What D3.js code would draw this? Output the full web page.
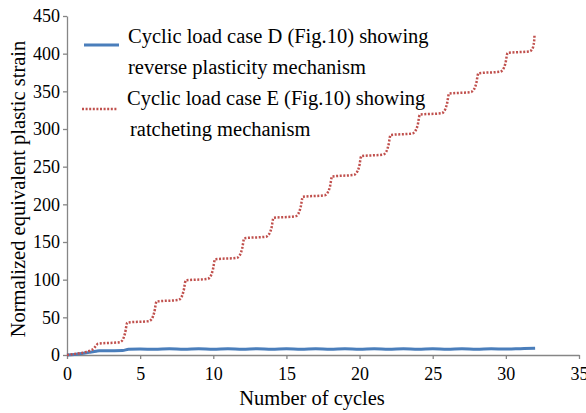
<!DOCTYPE html>
<html>
<head>
<meta charset="utf-8">
<script src="https://cdn.jsdelivr.net/npm/d3@7"></script>
<style>
  html, body { margin: 0; padding: 0; background: #fff; }
  svg { display: block; }
  svg text { font-family: "Liberation Serif", "Times New Roman", Times, serif; }
</style>
</head>
<body>
<svg id="chart" width="586" height="413"></svg>
<script>
// ---- data ----
const xTicks = [0, 5, 10, 15, 20, 25, 30, 35];
const yTicks = [0, 50, 100, 150, 200, 250, 300, 350, 400, 450];

const seriesNames = [
  ["Cyclic load case D (Fig.10) showing", "reverse plasticity mechanism"],
  ["Cyclic load case E (Fig.10) showing", "ratcheting mechanism"]
];

// Case D: reverse plasticity (blue)
const cyclesD = [0, 0.5, 1, 1.5, 2, 2.2, 3.8, 4.2, 5, 6, 7, 8, 9, 10, 11, 12, 13, 14, 15, 16, 17, 18, 19, 20, 21, 22, 23, 24, 25, 26, 27, 28, 29, 30, 31, 32];
const strainD = [0, 0.8, 2, 3.5, 5, 5.5, 6, 7.5, 8, 7.5, 8.2, 7.6, 8.3, 7.6, 8.3, 7.6, 8.3, 7.6, 8.3, 7.6, 8.3, 7.6, 8.3, 7.6, 8.3, 7.6, 8.3, 7.6, 8.3, 7.6, 8.3, 7.6, 8.3, 7.8, 8.4, 9];

// Case E: ratcheting (red dotted)
const cyclesE = [0, 0.6, 1.2, 1.6, 1.85, 1.97, 2.12,
  3.6, 3.8, 3.97, 4.12,
  5.6, 5.8, 5.97, 6.12,
  7.6, 7.8, 7.97, 8.12,
  9.6, 9.8, 9.97, 10.12,
  11.6, 11.8, 11.97, 12.12,
  13.6, 13.8, 13.97, 14.12,
  15.6, 15.8, 15.97, 16.12,
  17.6, 17.8, 17.97, 18.12,
  19.6, 19.8, 19.97, 20.12,
  21.6, 21.8, 21.97, 22.12,
  23.6, 23.8, 23.97, 24.12,
  25.6, 25.8, 25.97, 26.12,
  27.6, 27.8, 27.97, 28.12,
  29.6, 29.8, 29.97, 30.12,
  31.6, 31.8, 31.93, 31.96];
const strainE = [0, 1.5, 3.5, 6, 9, 12, 15,
  17, 20, 29, 43,
  45, 48, 57, 71,
  73, 76, 85, 99,
  101, 104, 113, 127,
  129, 132, 141, 155,
  157, 160, 168, 182,
  184, 187, 196, 210,
  212, 215, 223, 237,
  239, 242, 250, 264,
  266, 269, 278, 292,
  294, 297, 305, 319,
  321, 324, 333, 347,
  349, 352, 360, 374,
  376, 379, 387, 401,
  403, 406, 416, 425];

const colors = ["#4a7ebb", "#c0504d"];

// ---- chart ----
const svg = d3.select("#chart");
const serif = '"Liberation Serif", "Times New Roman", Times, serif';

const x = d3.scaleLinear().domain([0, 35]).range([67, 579]);
const y = d3.scaleLinear().domain([0, 450]).range([355, 16]);

const axisColor = "#868686";

const gx = svg.append("g")
  .attr("transform", `translate(0,${y(0)})`)
  .call(d3.axisBottom(x).tickValues(xTicks).tickSize(4).tickSizeOuter(0).tickPadding(8));
const gy = svg.append("g")
  .attr("transform", `translate(${x(0)},0)`)
  .call(d3.axisLeft(y).tickValues(yTicks).tickSize(4).tickSizeOuter(0).tickPadding(3));

[gx, gy].forEach(g => {
  g.attr("font-family", serif).attr("font-size", 18);
  g.selectAll("path.domain").attr("stroke", axisColor).attr("stroke-width", 1.3);
  g.selectAll(".tick line").attr("stroke", axisColor).attr("stroke-width", 1.3);
  g.selectAll(".tick text").attr("fill", "#000");
});

const lineGen = d3.line().x(d => x(d[0])).y(d => y(d[1])).curve(d3.curveMonotoneX);

const dataD = cyclesD.map((c, i) => [c, strainD[i]]);
const dataE = cyclesE.map((c, i) => [c, strainE[i]]);

svg.append("path").datum(dataD)
  .attr("d", lineGen)
  .attr("fill", "none")
  .attr("stroke", colors[0])
  .attr("stroke-width", 3);

svg.append("path").datum(dataE)
  .attr("d", lineGen)
  .attr("fill", "none")
  .attr("stroke", colors[1])
  .attr("stroke-width", 2.5)
  .attr("stroke-dasharray", "2,1.6");

// ---- axis titles ----
svg.append("text")
  .attr("x", 312).attr("y", 405)
  .attr("text-anchor", "middle")
  .attr("font-family", serif).attr("font-size", 20.5)
  .text("Number of cycles");

svg.append("text")
  .attr("transform", "translate(25,189) rotate(-90)")
  .attr("text-anchor", "middle")
  .attr("font-family", serif).attr("font-size", 20.5)
  .text("Normalized equivalent plastic strain");

// ---- legend ----
const legend = svg.append("g");
legend.append("line")
  .attr("x1", 84).attr("x2", 119).attr("y1", 45).attr("y2", 45)
  .attr("stroke", colors[0]).attr("stroke-width", 3);
legend.append("line")
  .attr("x1", 82).attr("x2", 118).attr("y1", 109).attr("y2", 109)
  .attr("stroke", colors[1]).attr("stroke-width", 2.5)
  .attr("stroke-dasharray", "2,1.6");

const legendText = [
  { t: seriesNames[0][0], x: 128, y: 43 },
  { t: seriesNames[0][1], x: 128, y: 74 },
  { t: seriesNames[1][0], x: 127, y: 105 },
  { t: seriesNames[1][1], x: 130, y: 136 }
];
legend.selectAll("text.lg").data(legendText).enter().append("text")
  .attr("class", "lg")
  .attr("x", d => d.x).attr("y", d => d.y)
  .attr("font-family", serif).attr("font-size", 20.5)
  .text(d => d.t);
</script>
</body>
</html>
